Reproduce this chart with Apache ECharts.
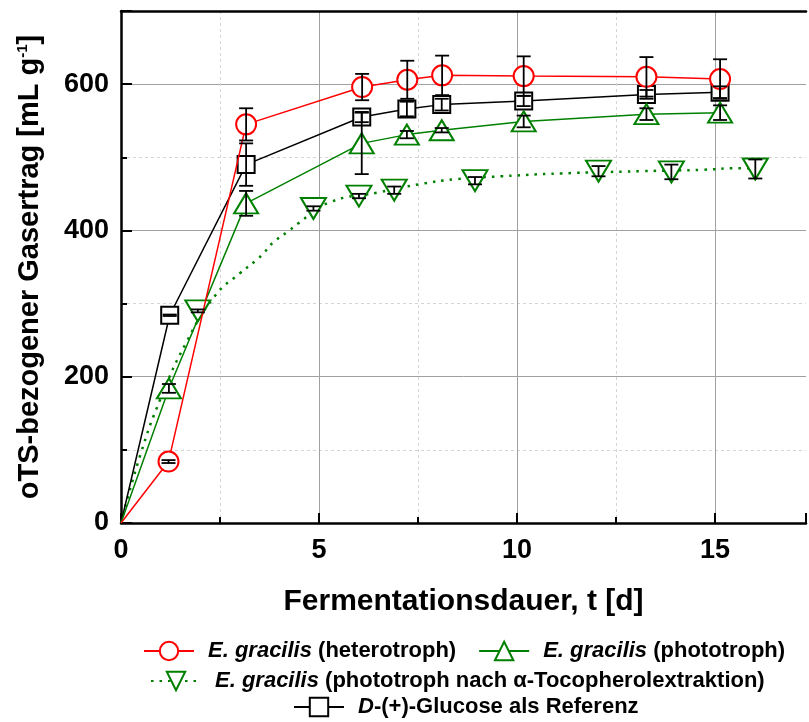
<!DOCTYPE html>
<html><head><meta charset="utf-8">
<script src="https://cdn.jsdelivr.net/npm/echarts@6/dist/echarts.min.js"></script>
<style>html,body{margin:0;padding:0;background:#fff}#c{width:809px;height:722px}</style>
</head><body><div id="c"></div>
<script>
// ---- data ----
const hetX = [0, 1.2, 3.16, 6.09, 7.23, 8.11, 10.17, 13.27, 15.13];
const hetY = [0, 84, 545, 596, 606, 612, 611, 610, 607];
const hetErr = [0, 2, 22, 18, 26, 27, 27, 27, 27];

const photoX = [0, 1.21, 3.16, 6.08, 7.22, 8.1, 10.17, 13.27, 15.13];
const photoY = [0, 184, 437, 519, 531, 537, 549, 559, 561];
const photoErr = [0, 6, 17, 42, 5, 3, 8, 8, 10];

const tocoX = [0, 1.94, 4.86, 6.01, 6.9, 8.94, 12.06, 13.9, 16.02];
const tocoY = [0, 290, 430, 447, 455, 468, 481, 480, 484];
const tocoErr = [0, 2, 3, 3, 5, 5, 7, 10, 13];

// dotted fit curve
const tocoFitX = [0, 0.5, 1.0, 1.66, 2.38, 2.99, 3.41, 3.62, 3.83, 4.25, 4.46, 5.25, 6.51, 7.52, 8.44, 9.6, 11.13, 13.14, 14.73, 15.57, 16.0];
const tocoFitY = [0, 95, 170, 248, 311, 341, 359, 370, 383, 400, 409, 438, 452, 463, 470, 474, 478, 481, 483, 485, 485];

const glucX = [0, 1.23, 3.16, 6.08, 7.22, 8.1, 10.17, 13.27, 15.13];
const glucY = [0, 284, 490, 555, 566, 572, 577, 586, 589];
const glucErr = [0, 1, 29, 7, 10, 8, 7, 6, 8];

const xTicks = [0, 5, 10, 15];
const yTicks = [0, 200, 400, 600];

const N1 = 'E. gracilis (heterotroph)';
const N2 = 'E. gracilis (phototroph)';
const N3 = 'E. gracilis (phototroph nach α-Tocopherolextraktion)';
const N4 = 'D-(+)-Glucose als Referenz';
const legendRich = {};
legendRich[N1] = '{sp|}{i|E. gracilis} (heterotroph)';
legendRich[N2] = '{sp|}{i|E. gracilis} (phototroph)';
legendRich[N3] = '{sp|}{i|E. gracilis} (phototroph nach α-Tocopherolextraktion)';
legendRich[N4] = '{sp|}{i|D}-(+)-Glucose als Referenz';

const xTitle = 'Fermentationsdauer, t [d]';
const yTitle = 'oTS-bezogener Gasertrag [mL g{sup|-1}]';

// ---- chart ----
const FONT = '"Liberation Sans", Arial, Helvetica, sans-serif';
const RED = '#ff0000', GREEN = '#008000', BLACK = '#000000';

function pts(xs, ys) {
  return xs.map((x, i) => i === 0 ? { value: [x, ys[i]], symbol: 'none' } : [x, ys[i]]);
}
function errs(xs, ys, es) {
  return xs.map((x, i) => [x, ys[i], es[i]]).filter(d => d[2] > 0);
}
function errRender(params, api) {
  const x = api.value(0), y = api.value(1), e = api.value(2);
  const t = api.coord([x, y + e]), b = api.coord([x, y - e]);
  const hw = 7;
  const style = { stroke: '#000', lineWidth: 1.8 };
  return { type: 'group', children: [
    { type: 'line', shape: { x1: t[0], y1: t[1], x2: b[0], y2: b[1] }, style },
    { type: 'line', shape: { x1: t[0] - hw, y1: t[1], x2: t[0] + hw, y2: t[1] }, style },
    { type: 'line', shape: { x1: b[0] - hw, y1: b[1], x2: b[0] + hw, y2: b[1] }, style }
  ]};
}
function errSeries(xs, ys, es) {
  return { type: 'custom', renderItem: errRender, data: errs(xs, ys, es), z: 10, silent: true,
    encode: { x: 0, y: 1 }, clip: false };
}

const legendCommon = {
  orient: 'horizontal', itemWidth: 50, itemHeight: 23, itemGap: 22, padding: 0,
  selectedMode: false,
  formatter: n => legendRich[n],
  textStyle: {
    fontFamily: FONT, fontSize: 22, fontWeight: 'bold', color: '#000',
    rich: {
      sp: { width: 9 },
      i: { fontFamily: FONT, fontSize: 22, fontWeight: 'bold', fontStyle: 'italic', color: '#000' }
    }
  }
};

const labelStyle = { fontFamily: FONT, fontSize: 27, fontWeight: 'bold', color: '#000' };

const option = {
  animation: false,
  backgroundColor: '#fff',
  grid: { left: 121, right: 0, top: 11, bottom: 199, containLabel: false },
  xAxis: [
    { type: 'value', min: 0, max: 17.3, interval: 5, position: 'bottom',
      axisLine: { onZero: false, lineStyle: { color: '#000', width: 2.5 } },
      axisTick: { inside: true, length: 10, lineStyle: { color: '#000', width: 2 } },
      axisLabel: Object.assign({ margin: 14, formatter: v => xTicks.indexOf(v) >= 0 ? String(v) : '' }, labelStyle),
      splitLine: { show: true, showMaxLine: false, lineStyle: { color: '#a0a0a0', width: 1 } },
      name: xTitle, nameLocation: 'middle', nameGap: 64,
      nameTextStyle: { fontFamily: FONT, fontSize: 30, fontWeight: 'bold', color: '#000' } },
    { type: 'value', min: 0, max: 17.3, interval: 2.5, position: 'bottom',
      axisLine: { show: false, onZero: false },
      axisTick: { inside: true, length: 6, lineStyle: { color: '#000', width: 2 } },
      axisLabel: { show: false },
      splitLine: { show: true, showMaxLine: false, lineStyle: { color: ['rgba(0,0,0,0)', '#d4d4d4'], width: 1, type: [3, 3] } } },
    { type: 'value', min: 0, max: 17.3, position: 'top',
      axisLine: { onZero: false, lineStyle: { color: '#000', width: 2.5 } },
      axisTick: { show: false }, axisLabel: { show: false }, splitLine: { show: false } }
  ],
  yAxis: [
    { type: 'value', min: 0, max: 700, interval: 200, position: 'left',
      axisLine: { onZero: false, lineStyle: { color: '#000', width: 2.5 } },
      axisTick: { inside: true, length: 11, lineStyle: { color: '#000', width: 2 } },
      axisLabel: Object.assign({ margin: 12, formatter: v => yTicks.indexOf(v) >= 0 ? String(v) : '' }, labelStyle),
      splitLine: { show: true, showMaxLine: false, lineStyle: { color: '#a0a0a0', width: 1 } },
      name: yTitle, nameLocation: 'middle', nameGap: 77,
      nameTextStyle: { fontFamily: FONT, fontSize: 29, fontWeight: 'bold', color: '#000', padding: [0, 0, 0, 0],
        rich: { sup: { fontFamily: FONT, fontSize: 15, fontWeight: 'bold', color: '#000', verticalAlign: 'top' } } } },
    { type: 'value', min: 0, max: 700, interval: 100, position: 'left',
      axisLine: { show: false, onZero: false },
      axisTick: { inside: true, length: 6, lineStyle: { color: '#000', width: 2 } },
      axisLabel: { show: false },
      splitLine: { show: true, showMaxLine: false, lineStyle: { color: ['rgba(0,0,0,0)', '#d4d4d4'], width: 1, type: [3, 3] } } }
  ],
  legend: [
    Object.assign({ data: [N1, N2], left: 143, top: 640 }, legendCommon),
    Object.assign({ data: [N3], left: 150, top: 670 }, legendCommon),
    Object.assign({ data: [N4], left: 293, top: 696 }, legendCommon)
  ],
  series: [
    { name: N4, type: 'line', data: pts(glucX, glucY), symbol: 'emptyRect', symbolSize: 17,
      lineStyle: { color: BLACK, width: 1.5 }, itemStyle: { color: BLACK, borderWidth: 2.6 }, z: 3, silent: true },
    { name: N3, type: 'line', data: tocoFitX.map((x, i) => [x, tocoFitY[i]]), smooth: true, showSymbol: false,
      symbol: 'emptyTriangle', symbolRotate: 180, symbolSize: [25, 21],
      lineStyle: { color: GREEN, width: 2.5, type: [2.5, 6] }, itemStyle: { color: GREEN, borderWidth: 3 }, z: 2, silent: true },
    { name: 'toco-points', type: 'scatter', data: pts(tocoX, tocoY), symbol: 'emptyTriangle', symbolRotate: 180,
      symbolSize: [25, 21], itemStyle: { color: GREEN, borderWidth: 3, opacity: 1 }, z: 4, silent: true },
    { name: N2, type: 'line', data: pts(photoX, photoY), symbol: 'emptyTriangle', symbolSize: [24, 20],
      lineStyle: { color: GREEN, width: 1.5 }, itemStyle: { color: GREEN, borderWidth: 3 }, z: 4, silent: true },
    { name: N1, type: 'line', data: pts(hetX, hetY), symbol: 'emptyCircle', symbolSize: 20,
      lineStyle: { color: RED, width: 1.5 }, itemStyle: { color: RED, borderWidth: 2.5 }, z: 5, silent: true },
    errSeries(glucX, glucY, glucErr),
    errSeries(photoX, photoY, photoErr),
    errSeries(tocoX, tocoY, tocoErr),
    errSeries(hetX, hetY, hetErr)
  ]
};

const chart = echarts.init(document.getElementById('c'), null, { renderer: 'canvas' });
chart.setOption(option);
</script>
</body></html>
